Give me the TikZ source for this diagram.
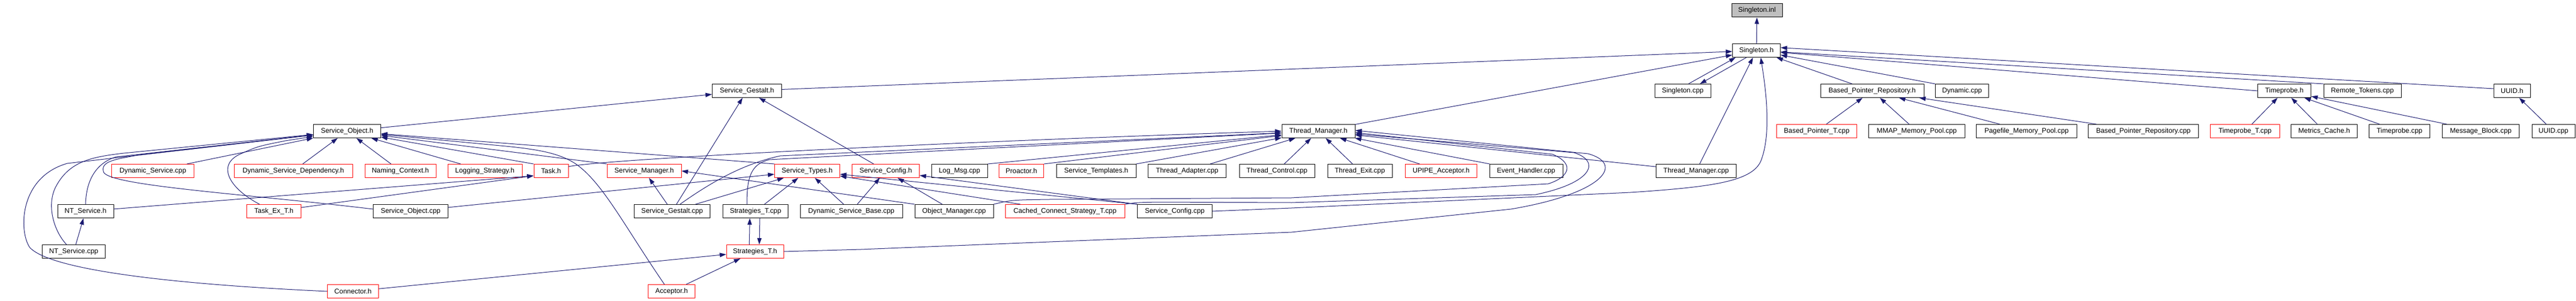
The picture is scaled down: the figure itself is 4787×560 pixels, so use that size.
\documentclass[tikz,border=0pt]{standalone}
\usepackage{fontspec}
\setmainfont{Liberation Sans}
\usepackage{tikz}
\usetikzlibrary{arrows.meta,positioning}
\definecolor{edgeblue}{HTML}{191970}
\definecolor{rootgray}{HTML}{BFBFBF}

\begin{document}
\begin{tikzpicture}[x=0.75pt,y=-0.75pt,>={Triangle[length=9pt,width=6pt]},
	file/.style={draw=black,line width=0.75pt,minimum height=18.75pt,inner xsep=1pt,inner ysep=0pt,font=\fontsize{9.6}{11}\selectfont},
	trunc/.style={file,draw=red},
	wd/.style={minimum width=#1*0.75pt},
	dep/.style={->,color=edgeblue,line width=0.75pt}]
	\useasboundingbox (0,0) rectangle (4787,560);

	\node[file,fill=rootgray,wd=94] (s_inl) at (3265,19.5) {Singleton.inl};
	\node[file,wd=89] (s_h) at (3264,94) {Singleton.h};

	\node[file,wd=129] (sg_h) at (1388,169) {Service\_Gestalt.h};
	\node[file,wd=104] (s_cpp) at (3127,169) {Singleton.cpp};
	\node[file,wd=192] (bpr_h) at (3479,169) {Based\_Pointer\_Repository.h};
	\node[file,wd=99] (dyn_cpp) at (3646,169) {Dynamic.cpp};
	\node[file,wd=99] (tp_h) at (4245,169) {Timeprobe.h};
	\node[file,wd=144] (rt_cpp) at (4390,169) {Remote\_Tokens.cpp};
	\node[file,wd=68] (uuid_h) at (4668,169) {UUID.h};

	\node[file,wd=125] (so_h) at (645,244) {Service\_Object.h};
	\node[file,wd=136] (tm_h) at (2450,244) {Thread\_Manager.h};
	\node[trunc,wd=149] (bpt_cpp) at (3376,244) {Based\_Pointer\_T.cpp};
	\node[file,wd=179] (mmap_cpp) at (3562,244) {MMAP\_Memory\_Pool.cpp};
	\node[file,wd=187] (pf_cpp) at (3766,244) {Pagefile\_Memory\_Pool.cpp};
	\node[file,wd=205] (bpr_cpp) at (3983,244) {Based\_Pointer\_Repository.cpp};
	\node[trunc,wd=129] (tpt_cpp) at (4172,244) {Timeprobe\_T.cpp};
	\node[file,wd=123] (mc_h) at (4319,244) {Metrics\_Cache.h};
	\node[file,wd=113] (tp_cpp) at (4459,244) {Timeprobe.cpp};
	\node[file,wd=143] (mb_cpp) at (4610,244) {Message\_Block.cpp};
	\node[file,wd=80] (uuid_cpp) at (4745,244) {UUID.cpp};

	\node[trunc,wd=153] (ds_cpp) at (284,318) {Dynamic\_Service.cpp};
	\node[trunc,wd=220] (dsd_h) at (545,318) {Dynamic\_Service\_Dependency.h};
	\node[trunc,wd=132] (nc_h) at (744,318) {Naming\_Context.h};
	\node[trunc,wd=138] (ls_h) at (901,318) {Logging\_Strategy.h};
	\node[trunc,wd=64] (task_h) at (1024,318) {Task.h};
	\node[trunc,wd=138] (sm_h) at (1197,318) {Service\_Manager.h};
	\node[trunc,wd=121] (st_h) at (1500,318) {Service\_Types.h};
	\node[trunc,wd=125] (sc_h) at (1646,318) {Service\_Config.h};
	\node[file,wd=104] (lm_cpp) at (1783,318) {Log\_Msg.cpp};
	\node[trunc,wd=83] (pro_h) at (1898,318) {Proactor.h};
	\node[file,wd=148] (stpl_h) at (2037,318) {Service\_Templates.h};
	\node[file,wd=145] (ta_cpp) at (2206,318) {Thread\_Adapter.cpp};
	\node[file,wd=140] (tc_cpp) at (2373,318) {Thread\_Control.cpp};
	\node[file,wd=120] (te_cpp) at (2527,318) {Thread\_Exit.cpp};
	\node[trunc,wd=133] (upipe_h) at (2678,318) {UPIPE\_Acceptor.h};
	\node[file,wd=136] (eh_cpp) at (2836,318) {Event\_Handler.cpp};
	\node[file,wd=149] (tm_cpp) at (3152,318) {Thread\_Manager.cpp};

	\node[file,wd=104] (nt_h) at (159,393) {NT\_Service.h};
	\node[trunc,wd=101] (tet_h) at (509,393) {Task\_Ex\_T.h};
	\node[file,wd=139] (so_cpp) at (763,393) {Service\_Object.cpp};
	\node[file,wd=141] (sg_cpp) at (1249,393) {Service\_Gestalt.cpp};
	\node[file,wd=121] (stt_cpp) at (1404,393) {Strategies\_T.cpp};
	\node[file,wd=190] (dsb_cpp) at (1582,393) {Dynamic\_Service\_Base.cpp};
	\node[file,wd=146] (om_cpp) at (1773,393) {Object\_Manager.cpp};
	\node[trunc,wd=222] (ccs_cpp) at (1979,393) {Cached\_Connect\_Strategy\_T.cpp};
	\node[file,wd=139] (sc_cpp) at (2183,393) {Service\_Config.cpp};

	\node[file,wd=117] (nt_cpp) at (137,468) {NT\_Service.cpp};
	\node[trunc,wd=106] (stt_h) at (1403,468) {Strategies\_T.h};

	\node[trunc,wd=95] (con_h) at (656,542) {Connector.h};
	\node[trunc,wd=87] (acc_h) at (1248,542) {Acceptor.h};

	\path[dep]
		(s_h) edge (s_inl)
		(sg_h) edge (s_h)
		(tm_h) edge (s_h)
		(tm_cpp) edge (s_h)
		(bpr_h) edge (s_h)
		(dyn_cpp.north west) edge (s_h)
		(tp_h.west) edge (s_h)
		(rt_cpp.north west) edge (s_h)
		([yshift=3pt]uuid_h.west) edge ([yshift=4pt]s_h.east)
		([xshift=8pt]s_cpp.north) edge ([xshift=-29pt]s_h.south)
		([xshift=-14pt]s_h.south) edge ([xshift=24pt]s_cpp.north)
		(bpt_cpp) edge (bpr_h)
		(mmap_cpp) edge (bpr_h)
		(pf_cpp) edge (bpr_h)
		(bpr_cpp) edge (bpr_h)
		(tpt_cpp) edge (tp_h)
		(mc_h) edge (tp_h)
		(tp_cpp) edge (tp_h)
		(mb_cpp) edge (tp_h)
		(uuid_cpp) edge (uuid_h);

	\path[dep]
		(lm_cpp.north east) edge (tm_h)
		(pro_h.north east) edge (tm_h)
		(stpl_h.north east) edge (tm_h)
		(ta_cpp) edge (tm_h)
		(tc_cpp) edge (tm_h)
		(te_cpp) edge (tm_h)
		(upipe_h) edge (tm_h)
		(eh_cpp) edge (tm_h)
		(tm_cpp) edge (tm_h);

	\path[dep]
		(ds_cpp) edge (so_h)
		(dsd_h) edge (so_h)
		(nc_h) edge (so_h)
		(ls_h) edge (so_h)
		(task_h.north west) edge (so_h)
		(sm_h.north west) edge (so_h)
		(st_h.north west) edge (so_h)
		(so_h) edge (sg_h)
		(sg_cpp) edge (sg_h)
		(sc_h) edge (sg_h)
		(sg_cpp) edge (sm_h)
		(om_cpp.north west) edge (sm_h.east)
		(so_cpp) edge (st_h)
		(sg_cpp) edge (st_h)
		(stt_cpp) edge (st_h)
		(dsb_cpp) edge (st_h)
		(ccs_cpp) edge (st_h)
		(sc_cpp.north west) edge (st_h)
		(dsb_cpp) edge (sc_h)
		(om_cpp) edge (sc_h)
		(sc_cpp.north west) edge (sc_h)
		(nt_h) edge ([yshift=3pt]task_h.south west)
		(tet_h) edge ([yshift=3pt]task_h.south west)
		(nt_cpp) edge (nt_h)
		(con_h) edge (stt_h)
		(acc_h) edge (stt_h)
		([xshift=-8pt]stt_h.north) edge ([xshift=-8pt]stt_cpp.south)
		([xshift=6pt]stt_cpp.south) edge ([xshift=6pt]stt_h.north);

	\draw[dep] (con_h.west) .. controls (300,528) and (90,500) .. (55,460) .. controls (35,430) and (35,330) .. (125,304) -- (so_h);
	\draw[dep] ([xshift=-10pt]nt_cpp.north) .. controls (100,430) and (85,380) .. (105,345) .. controls (130,300) and (170,292) .. (230,285) -- (so_h);
	\draw[dep] (nt_h.north) .. controls (160,340) and (175,305) .. (215,292) -- (so_h);
	\draw[dep] ([yshift=3pt]so_cpp.west) .. controls (450,360) and (190,345) .. (192,318) .. controls (188,300) and (215,296) .. (260,288) -- (so_h);
	\draw[dep] ([xshift=-20pt]tet_h.north) .. controls (425,350) and (400,305) .. (450,285) .. controls (480,272) .. (530,262) -- (so_h);
	\draw[dep] ([xshift=-10pt]acc_h.north) .. controls (1160,420) and (1120,340) .. (1070,305) .. controls (1040,285) and (1000,278) .. (940,272) -- (so_h);

	\draw[dep] ([yshift=6pt]task_h.east) .. controls (1120,296) and (1800,262) .. (tm_h.west);
	\draw[dep] ([xshift=11pt]sg_cpp.north) .. controls (1320,340) and (1380,305) .. (1450,290) -- (tm_h);
	\draw[dep] ([xshift=-12pt]stt_cpp.north) .. controls (1388,330) and (1395,305) .. (1430,297) -- (tm_h);
	\draw[dep] (om_cpp.north east) .. controls (1880,372) .. (1950,371) -- (2400,368) -- (2877,342) .. controls (2915,330) and (2928,305) .. (2885,287) -- ([yshift=-2pt]tm_h.east);
	\draw[dep] (ccs_cpp.north east) .. controls (2110,377) .. (2150,376) -- (2400,377) -- (2854,362) .. controls (2960,340) and (2975,300) .. (2925,284) -- ([yshift=-4pt]tm_h.east);
	\draw[dep] (stt_h.east) -- (1600,464) -- (2400,432) -- (2808,389) .. controls (2980,360) and (3020,305) .. (2951,286) -- ([yshift=1pt]tm_h.east);
	\draw[dep] (sc_cpp.east) -- (2400,387) -- (3030,358) .. controls (3180,348) and (3255,338) .. (3272,300) .. controls (3292,250) and (3282,170) .. ([xshift=6pt]s_h.south);
\end{tikzpicture}
\end{document}
